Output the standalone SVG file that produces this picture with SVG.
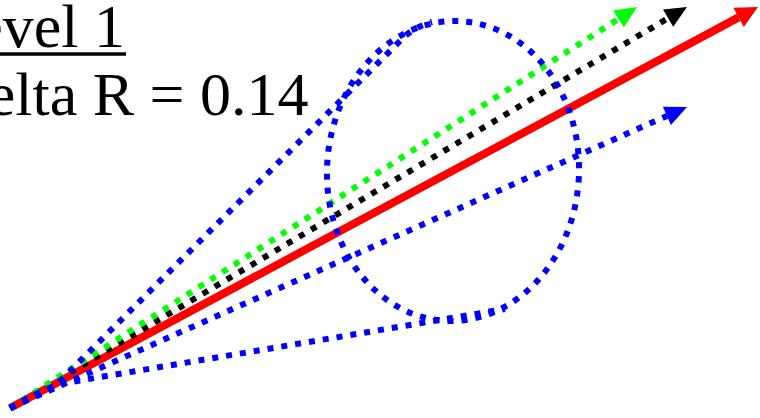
<svg xmlns="http://www.w3.org/2000/svg" width="760" height="418" viewBox="0 0 760 418">
  <style>
    .lbl { font-family: "Liberation Serif", "Times New Roman", serif; font-size: 62px; fill: #000; }
    .dot { fill: none; stroke-width: 6; stroke-dasharray: 6 8; stroke-linecap: butt; }
    .blue { stroke: #0000ff; }
    .green { stroke: #00ff00; }
    .black { stroke: #000000; }
    .red { fill: none; stroke: #ff0000; stroke-width: 8; }
  </style>
  <defs>
    <marker id="hRed" markerUnits="userSpaceOnUse" markerWidth="24" markerHeight="22" refX="0" refY="11" orient="auto" overflow="visible">
      <path d="M0,0 L22,11 L0,22 z" fill="#ff0000"/>
    </marker>
    <marker id="hBlack" markerUnits="userSpaceOnUse" markerWidth="24" markerHeight="20" refX="0" refY="10" orient="auto" overflow="visible">
      <path d="M0,0 L22,10 L0,20 z" fill="#000000"/>
    </marker>
    <marker id="hGreen" markerUnits="userSpaceOnUse" markerWidth="24" markerHeight="20" refX="0" refY="10" orient="auto" overflow="visible">
      <path d="M0,0 L22,10 L0,20 z" fill="#00ff00"/>
    </marker>
    <marker id="hBlue" markerUnits="userSpaceOnUse" markerWidth="24" markerHeight="20" refX="0" refY="10" orient="auto" overflow="visible">
      <path d="M0,0 L22,10 L0,20 z" fill="#0000ff"/>
    </marker>
  </defs>

  <g id="title">
    <text class="lbl" x="125" y="47" text-anchor="end">Level 1</text>
    <line x1="0" y1="54" x2="126" y2="54" stroke="#000" stroke-width="3.5"/>
    <text class="lbl" x="308.5" y="115" text-anchor="end">Delta R = 0.14</text>
  </g>

  <g id="connectors">
    <path id="arrow-red" class="red" d="M10,408 L738.6,17.4" marker-end="url(#hRed)"/>
    <path id="arrow-black" class="dot black" d="M10,408 L668.1,18.2" marker-end="url(#hBlack)"/>
    <path id="arrow-green" class="dot green" d="M10,408 L618.5,18.9" marker-end="url(#hGreen)"/>
    <path id="arrow-blue" class="dot blue" d="M10,408 L666.9,115.9" marker-end="url(#hBlue)"/>
  </g>

  <g id="uncertainty-region">
    <ellipse class="dot blue" cx="453" cy="171" rx="126" ry="150" transform="rotate(2.5 453 171)"/>
    <path class="dot blue" d="M10,408 C25,400 50,391 60,381 L403,38 Q414,27 432,22"/>
    <path class="dot blue" d="M10,408 C25,399 50,385.5 65,383 L505,309"/>
  </g>
</svg>
